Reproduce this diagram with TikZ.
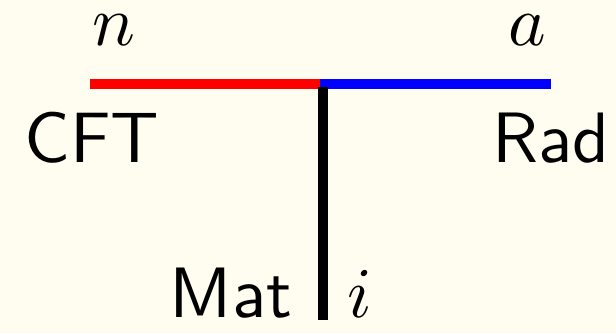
\documentclass[tikz,border=0pt]{standalone}
\usepackage{amsmath,amssymb}
\usepackage{xcolor}
\usepackage{tikz}
\definecolor{paper}{HTML}{FFFDF0}

\begin{document}
\begin{tikzpicture}[x=0.75pt,y=-0.75pt,line join=round,
  leg/.style={line width=7.5pt},
  lbl/.style={anchor=base,inner sep=0pt,scale=5.35,font=\sffamily}]
  \fill[paper] (0,0) rectangle (616,333);
  \useasboundingbox (0,0) rectangle (616,333);
  \coordinate (L) at (90,83.5);
  \coordinate (V) at (320,83.5);
  \coordinate (R) at (551,83.5);
  \coordinate (T) at (323,87);
  \coordinate (B) at (323,320);
  \draw[leg,red] (L) -- (V);
  \draw[leg,blue] (V) -- (R);
  \draw[leg,black] (T) -- (B);
  \node[lbl] (n) at (114,45) {$n$};
  \node[lbl] (a) at (527,45) {$a$};
  \node[lbl] (cft) at (92,162) {CFT};
  \node[lbl] (rad) at (551,162) {Rad};
  \node[lbl] (mat) at (231,317) {Mat};
  \node[lbl] (i) at (360,317) {$i$};
\end{tikzpicture}
\end{document}
